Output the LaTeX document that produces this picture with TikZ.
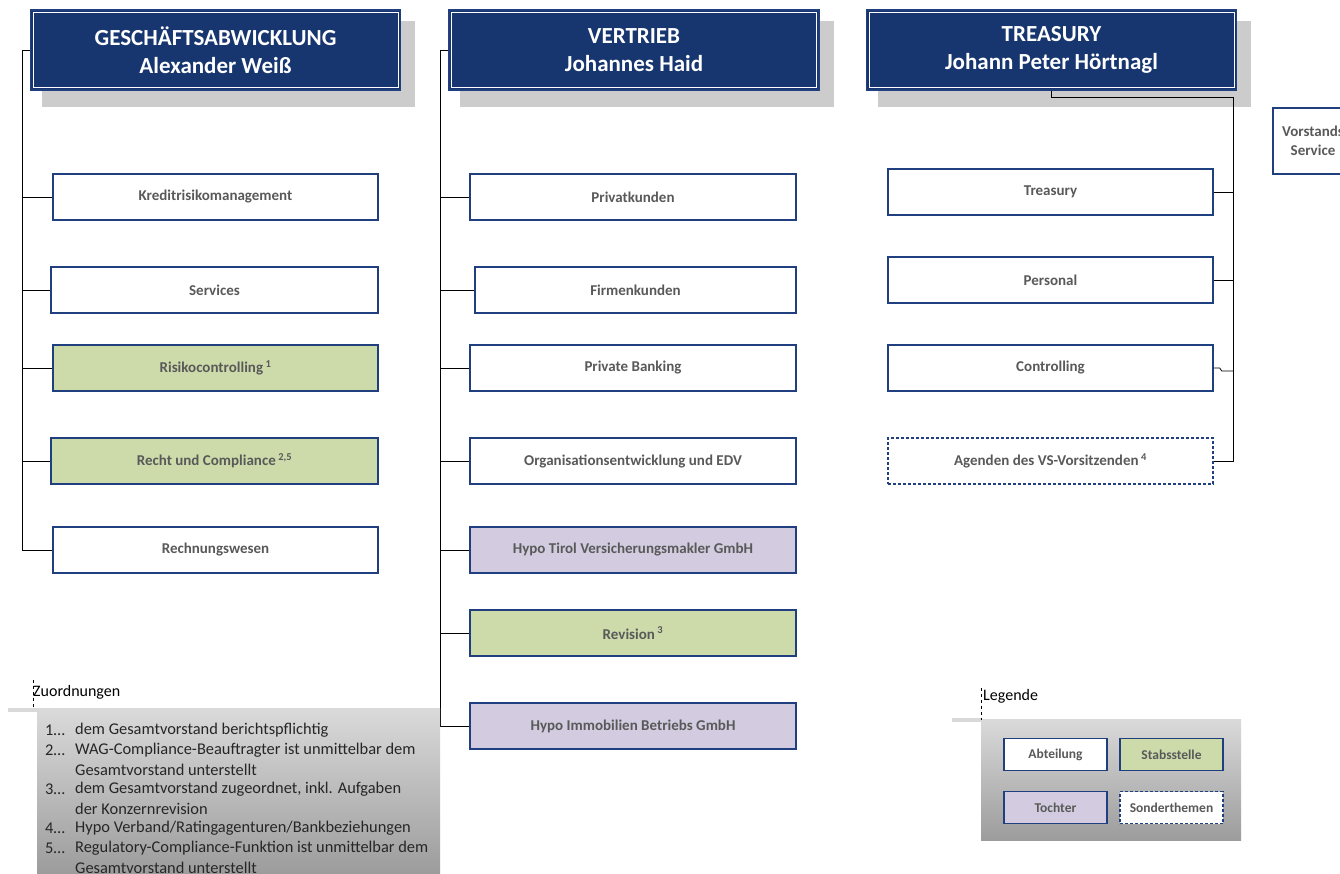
\documentclass[tikz,border=0pt]{standalone}
\usepackage{fontspec}
\setmainfont{Carlito}
\usetikzlibrary{calc,backgrounds}
\definecolor{hdr}{HTML}{17366F}
\definecolor{bord}{HTML}{1F3F7F}
\definecolor{grn}{HTML}{CDDBAA}
\definecolor{prp}{HTML}{D3CCE0}
\definecolor{txt}{HTML}{595959}
\definecolor{shd}{HTML}{CCCCCC}
\definecolor{ltop}{HTML}{DADADA}
\definecolor{lbot}{HTML}{9C9C9C}
\begin{document}
\begin{tikzpicture}[x=1pt,y=-1pt,
 hbox/.style={fill=hdr,draw=bord,line width=1.2pt,minimum width=370pt,minimum height=80pt,inner sep=0pt,text=white,font=\fontsize{23}{28}\selectfont\bfseries,align=center},
 ubox/.style={draw=bord,line width=1.5pt,fill=white,minimum width=325pt,minimum height=46pt,inner sep=0pt,text=txt,font=\fontsize{15}{17}\selectfont\bfseries},
 lbox/.style={ubox,minimum width=103pt,minimum height=32pt,font=\fontsize{13.5}{15}\selectfont\bfseries},
 green/.style={fill=grn},
 purple/.style={fill=prp},
 special/.style={dash pattern=on 3pt off 2pt},
 conn/.style={draw=black,line width=0.8pt},
 note/.style={anchor=west,inner sep=0pt,font=\fontsize{16.4}{18}\selectfont,text=black!85},
 ttl/.style={anchor=west,inner sep=0pt,font=\fontsize{16}{18}\selectfont,text=black}]
\useasboundingbox (0,0) rectangle (1340,874);

% headers
\node[hbox] (h1) at (215.5,50) {GESCHÄFTSABWICKLUNG\\Alexander Weiß};
\node[hbox] (h2) at (634,50) {VERTRIEB\\Johannes Haid};
\node[hbox] (h3) at (1051.5,50) {TREASURY\\Johann Peter Hörtnagl};
\begin{scope}[on background layer]
\fill[white] (0,0) rectangle (1340,874);
\foreach \h in {h1,h2,h3}{
 \fill[shd] ($(\h.north west)+(12,12)$) rectangle ($(\h.south east)+(14,16)$);
}
\end{scope}
\foreach \h in {h1,h2,h3}{
 \draw[white,line width=0.8pt] ($(\h.north west)+(3,3)$) rectangle ($(\h.south east)+(-3,-3)$);
}

% left column
\node[ubox] (k1) at (215.5,197) {Kreditrisikomanagement};
\node[ubox,minimum width=327pt] (k2) at (214.5,290) {Services};
\node[ubox,green] (k3) at (215.5,368) {Risikocontrolling\,\textsuperscript{1}};
\node[ubox,green,minimum width=327pt] (k4) at (214.5,461) {Recht und Compliance\,\textsuperscript{2,5}};
\node[ubox] (k5) at (215.5,550) {Rechnungswesen};

% middle column
\node[ubox,minimum width=326pt] (m1) at (633,197) {Privatkunden};
\node[ubox,minimum width=321pt] (m2) at (635.5,290) {Firmenkunden};
\node[ubox,minimum width=326pt] (m3) at (633,368) {Private Banking};
\node[ubox,minimum width=326pt] (m4) at (633,461) {Organisationsentwicklung und EDV};
\node[ubox,purple,minimum width=326pt] (m5) at (633,550) {Hypo Tirol Versicherungsmakler GmbH};
\node[ubox,green,minimum width=326pt] (m6) at (633,633) {Revision\,\textsuperscript{3}};
\node[ubox,purple,minimum width=326pt] (m7) at (633,726) {Hypo Immobilien Betriebs GmbH};

% right column
\node[ubox] (r1) at (1050.5,192) {Treasury};
\node[ubox] (r2) at (1050.5,280) {Personal};
\node[ubox] (r3) at (1050.5,368) {Controlling};
\node[ubox,special] (r4) at (1050.5,461) {Agenden des VS-Vorsitzenden\,\textsuperscript{4}};

\node[ubox,minimum width=80pt,minimum height=66pt,align=center,font=\fontsize{15}{19}\selectfont\bfseries] (vs) at (1313,141) {Vorstands\\Service};

% connectors left
\coordinate (tl) at (22,50);
\draw[conn] (h1.west) -- (tl) |- (k5.west);
\foreach \n in {k1,k2,k3,k4}{\draw[conn] (\n.west) -- (\n.west -| tl);}
% connectors middle
\coordinate (tm) at (440,50);
\draw[conn] (h2.west) -- (tm) |- (m7.west);
\foreach \n in {m1,m2,m3,m4,m5,m6}{\draw[conn] (\n.west) -- (\n.west -| tm);}
% connectors right
\coordinate (tr) at (1233,97);
\draw[conn] (h3.south) |- (tr) |- (r4.east);
\foreach \n in {r1,r2}{\draw[conn] (\n.east) -- (\n.east -| tr);}
\draw[conn] (r3.east) -- ++(6,0) -- ++(2,3) -- ++(12,0);

% Zuordnungen
\fill[black!15] (8,708) rectangle (37,712);
\shade[top color=ltop,bottom color=lbot] (37,708) rectangle (440,874);
\node[ttl] (zt) at (33,692) {Zuordnungen};
\draw[dashed,line width=0.6pt] (33,680) -- (33,708);
\node[note] (z1n) at (45,730) {1\dots};
\node[note] (z1) at (75,730) {dem Gesamtvorstand berichtspflichtig};
\node[note] (z2n) at (45,750) {2\dots};
\node[note] (z2) at (75,750) {WAG-Compliance-Beauftragter ist unmittelbar dem};
\node[note] (z2b) at (75,769.5) {Gesamtvorstand unterstellt};
\node[note] (z3n) at (45,789) {3\dots};
\node[note] (z3) at (75,789) {dem Gesamtvorstand zugeordnet, inkl. Aufgaben};
\node[note] (z3b) at (75,808.5) {der Konzernrevision};
\node[note] (z4n) at (45,828) {4\dots};
\node[note] (z4) at (75,828) {Hypo Verband/Ratingagenturen/Bankbeziehungen};
\node[note] (z5n) at (45,848) {5\dots};
\node[note] (z5) at (75,848) {Regulatory-Compliance-Funktion ist unmittelbar dem};
\node[note] (z5b) at (75,867.5) {Gesamtvorstand unterstellt};

% Legende
\fill[black!15] (952,718) rectangle (981,722);
\shade[top color=ltop,bottom color=lbot] (981,719) rectangle (1241,840);
\node[ttl] (lt) at (983,696) {Legende};
\draw[dashed,line width=0.6pt] (981,688) -- (981,720);
\node[lbox] (l1) at (1055.5,754.5) {Abteilung};
\node[lbox,green] (l2) at (1171.5,754.5) {Stabsstelle};
\node[lbox,purple] (l3) at (1055.5,807.5) {Tochter};
\node[lbox,special] (l4) at (1171.5,807.5) {Sonderthemen};
\end{tikzpicture}
\end{document}
